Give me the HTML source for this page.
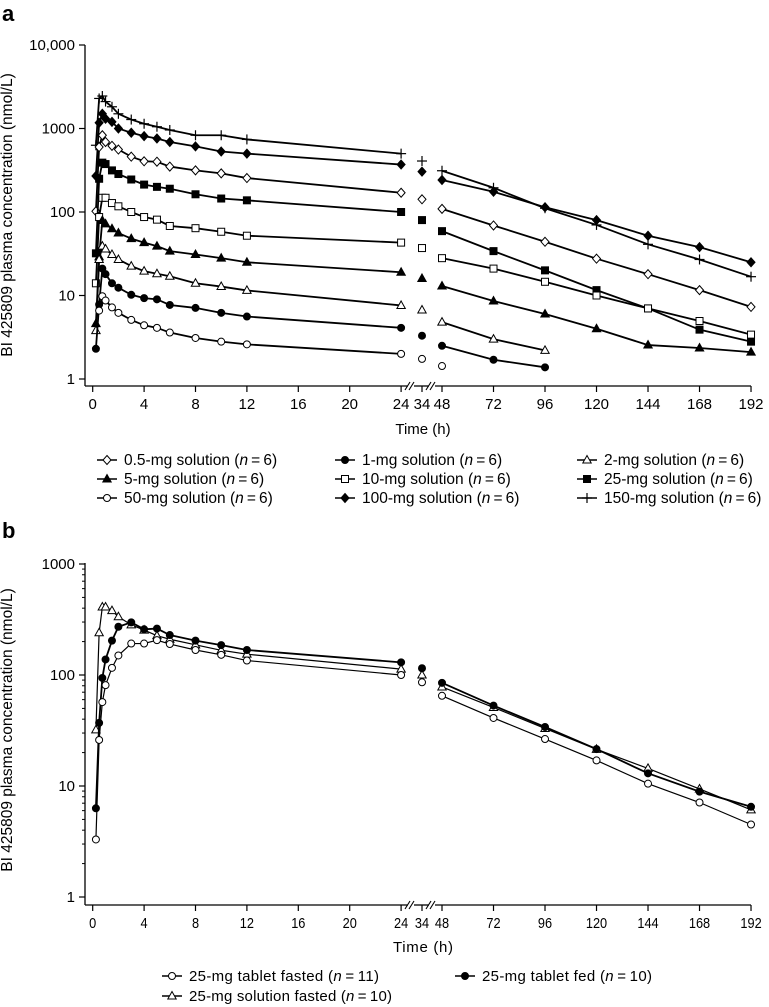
<!DOCTYPE html>
<html><head><meta charset="utf-8"><style>
body{margin:0;background:#fff;}
svg{display:block;font-family:"Liberation Sans",sans-serif;}
</style></head><body>
<svg id="chart" width="769" height="1007" viewBox="0 0 769 1007">
<text x="2" y="21" font-size="22" font-weight="bold">a</text>
<text x="2" y="538" font-size="22" font-weight="bold">b</text>
<text transform="translate(12,215) rotate(-90)" text-anchor="middle" font-size="15.5">BI 425809 plasma concentration (nmol/L)</text>
<text transform="translate(12,730) rotate(-90)" text-anchor="middle" font-size="15.5">BI 425809 plasma concentration (nmol/L)</text>
<text x="423" y="434" text-anchor="middle" font-size="15">Time (h)</text>
<text x="423" y="952" text-anchor="middle" font-size="15" textLength="60">Time (h)</text>
<g id="layer"></g>
</svg>
<script>
const times = [0.25,0.5,0.75,1,1.5,2,3,4,5,6,8,10,12,24,34,48,72,96,120,144,168,192];
const xTicks = [0,4,8,12,16,20,24,34,48,72,96,120,144,168,192];
const yTicksA = [1,10,100,1000,10000];
const yTickLabelsA = ["1","10","100","1000","10,000"];
const yTicksB = [1,10,100,1000];
const yTickLabelsB = ["1","10","100","1000"];
// panel a series (null = missing)
const s150 = [630,2290,2450,2100,1820,1500,1280,1140,1050,960,830,830,740,500,408,312,195,111,70,41,27,16.8];
const s100 = [270,1170,1500,1310,1200,1000,890,810,760,690,610,530,500,370,304,242,175,114,80,52,38,25];
const sDiaOpen = [102,600,830,690,620,560,460,405,400,350,315,290,255,170,142,109,69,44,27.6,18,11.6,7.3];
const sSqFill = [32,250,390,375,315,285,245,213,200,190,163,145,138,100,80,59,34,20,11.6,7.0,3.9,2.8];
const sSqOpen = [14,87,148,148,128,117,100,87,81,68,64,58,52,43,37,28,21,14.6,10,7.0,4.95,3.4];
const sTriFill = [4.6,29,79,72,63,56,48,43,39,34,31,28,25,19,16,13,8.6,6.0,4.0,2.55,2.35,2.1];
const sTriOpen = [3.8,27,39,36,31,27,22.5,19.6,18.2,17,14,12.8,11.5,7.6,6.7,4.8,3.0,2.2,null,null,null,null];
const sCirFill = [2.3,7.8,21,18,14,12.4,10.2,9.3,9.0,7.7,7.1,6.2,5.6,4.1,3.3,2.5,1.7,1.38,null,null,null,null];
const sCirOpen = [null,6.6,9.8,8.7,7.2,6.2,5.1,4.4,4.1,3.6,3.1,2.8,2.6,2.0,1.74,1.43,null,null,null,null,null,null];
// panel b series
const bTabFast = [3.3,26,57,81,116,150,192,192,206,190,168,152,135,100,86,65,41,26.5,17,10.5,7.1,4.5];
const bTabFed = [6.3,37,94,138,204,272,298,258,262,229,204,186,168,130,115,85,53,34,21.5,13,8.9,6.5];
const bSolFast = [32,240,410,410,380,335,283,254,226,210,187,167,154,113,100,78,51,33,21.4,14.4,9.4,6.1];

const NS="http://www.w3.org/2000/svg";
const layer=document.getElementById('layer');
function el(tag,attrs,parent){const e=document.createElementNS(NS,tag);for(const k in attrs)e.setAttribute(k,attrs[k]);(parent||layer).appendChild(e);return e;}
function xs(t){ if(t<=24) return 92.7+12.85*t; if(t<48) return 422; return 442+2.146*(t-48); }
const panels = {
  a:{y1:379,dec:83.5,top:45,axisY:386,ticks:yTicksA,labels:yTickLabelsA,minor:false,narrow:false},
  b:{y1:897,dec:111,top:563,axisY:905,ticks:yTicksB,labels:yTickLabelsB,minor:true,narrow:true}
};
function ys(p,v){return p.y1-p.dec*Math.log10(v);}

function drawAxes(key){
  const p=panels[key];
  const g=el('g',{});
  
  
  el('line',{x1:85,y1:p.top,x2:85,y2:p.axisY,stroke:'#000','stroke-width':1.3},g);
  el('line',{x1:85,y1:p.axisY,x2:408,y2:p.axisY,stroke:'#000','stroke-width':1.3},g);
  el('line',{x1:414,y1:p.axisY,x2:429,y2:p.axisY,stroke:'#000','stroke-width':1.3},g);
  el('line',{x1:435,y1:p.axisY,x2:751,y2:p.axisY,stroke:'#000','stroke-width':1.3},g);
  [[405,414],[426,435]].forEach(([a,b])=>{
    el('line',{x1:a,y1:p.axisY+4,x2:a+5,y2:p.axisY-4,stroke:'#000','stroke-width':1.1},g);
    el('line',{x1:a+4,y1:p.axisY+4,x2:a+9,y2:p.axisY-4,stroke:'#000','stroke-width':1.1},g);
  });
  xTicks.forEach(t=>{
    const x=xs(t);
    el('line',{x1:x,y1:p.axisY,x2:x,y2:p.axisY+6,stroke:'#000','stroke-width':1.2},g);
    const tx=el('text',{x:x,y:p.axisY+23,'text-anchor':'middle','font-size':15},g);
    if(p.narrow) tx.setAttribute('transform',`translate(${x},0) scale(0.85,1) translate(${-x},0)`);
    tx.textContent=t;
  });
  p.ticks.forEach((v,i)=>{
    const y=ys(p,v);
    el('line',{x1:79,y1:y,x2:85,y2:y,stroke:'#000','stroke-width':1.2},g);
    const tx=el('text',{x:75,y:y+5,'text-anchor':'end','font-size':15},g);
    tx.textContent=p.labels[i];
    if(p.minor && i<p.ticks.length-1){
      for(let m=2;m<=9;m++){const ym=ys(p,v*m);el('line',{x1:82,y1:ym,x2:85,y2:ym,stroke:'#000','stroke-width':1},g);}
    }
  });
}
function marker(g,type,x,y){
  const sw=1;
  if(type==='dOpen'||type==='dFill') el('polygon',{points:`${x},${y-4.5} ${x+4},${y} ${x},${y+4.5} ${x-4},${y}`,fill:type==='dFill'?'#000':'#fff',stroke:'#000','stroke-width':sw},g);
  else if(type==='sOpen'||type==='sFill') el('rect',{x:x-3.5,y:y-3.5,width:7,height:7,fill:type==='sFill'?'#000':'#fff',stroke:'#000','stroke-width':sw},g);
  else if(type==='tOpen'||type==='tFill') el('polygon',{points:`${x},${y-4.5} ${x+4.2},${y+3} ${x-4.2},${y+3}`,fill:type==='tFill'?'#000':'#fff',stroke:'#000','stroke-width':sw},g);
  else if(type==='cOpen'||type==='cFill') el('circle',{cx:x,cy:y,r:3.5,fill:type==='cFill'?'#000':'#fff',stroke:'#000','stroke-width':sw},g);
  else if(type==='plus'){el('line',{x1:x-5,y1:y,x2:x+5,y2:y,stroke:'#000','stroke-width':1.2},g);el('line',{x1:x,y1:y-5,x2:x,y2:y+5,stroke:'#000','stroke-width':1.2},g);}
}
function drawSeries(key,name,vals,type,lw){
  const p=panels[key];
  const g=el('g',{});
  
  
  const seg1=[],seg2=[];
  times.forEach((t,i)=>{const v=vals[i];if(v==null)return;const pt=[xs(t),ys(p,v)];if(t<=24)seg1.push(pt);else if(t>=48)seg2.push(pt);});
  [seg1,seg2].forEach(s=>{if(s.length>1)el('polyline',{points:s.map(q=>q.join(',')).join(' '),fill:'none',stroke:'#000','stroke-width':lw},g);});
  times.forEach((t,i)=>{const v=vals[i];if(v==null)return;marker(g,type,xs(t),ys(p,v));});
}
drawAxes('a');drawAxes('b');
drawSeries('a','series-150mg',s150,'plus',1.8);
drawSeries('a','series-100mg',s100,'dFill',1.8);
drawSeries('a','series-0-5mg',sDiaOpen,'dOpen',1.8);
drawSeries('a','series-25mg',sSqFill,'sFill',1.8);
drawSeries('a','series-10mg',sSqOpen,'sOpen',1.8);
drawSeries('a','series-5mg',sTriFill,'tFill',1.8);
drawSeries('a','series-2mg',sTriOpen,'tOpen',1.8);
drawSeries('a','series-1mg',sCirFill,'cFill',1.8);
drawSeries('a','series-50mg',sCirOpen,'cOpen',1.8);
drawSeries('b','series-solution-fasted',bSolFast,'tOpen',1.2);
drawSeries('b','series-tablet-fed',bTabFed,'cFill',1.8);
drawSeries('b','series-tablet-fasted',bTabFast,'cOpen',1.2);

function legendItem(x,y,type,label,n,fs,cond){
  const g=el('g',{});
  
  
  el('line',{x1:x-10,y1:y-5,x2:x+10,y2:y-5,stroke:'#000','stroke-width':1.6},g);
  marker(g,type,x,y-5);
  const t=el('text',{x:x+17,y:y,'font-size':fs},g);
  if(cond) t.setAttribute('textLength',cond);
  t.innerHTML=label+' (<tspan font-style="italic">n</tspan>\u2009=\u2009'+n+')';
}
legendItem(107,465,'dOpen','0.5-mg solution',6,15.5);
legendItem(345,465,'cFill','1-mg solution',6,15.5);
legendItem(587,465,'tOpen','2-mg solution',6,15.5);
legendItem(107,484,'tFill','5-mg solution',6,15.5);
legendItem(345,484,'sOpen','10-mg solution',6,15.5);
legendItem(587,484,'sFill','25-mg solution',6,15.5);
legendItem(107,503,'cOpen','50-mg solution',6,15.5);
legendItem(345,503,'dFill','100-mg solution',6,15.5);
legendItem(587,503,'plus','150-mg solution',6,15.5);
legendItem(172,981,'cOpen','25-mg tablet fasted',11,15,190);
legendItem(465,981,'cFill','25-mg tablet fed',10,15,170);
legendItem(172,1001,'tOpen','25-mg solution fasted',10,15,203);
</script>
</body></html>
